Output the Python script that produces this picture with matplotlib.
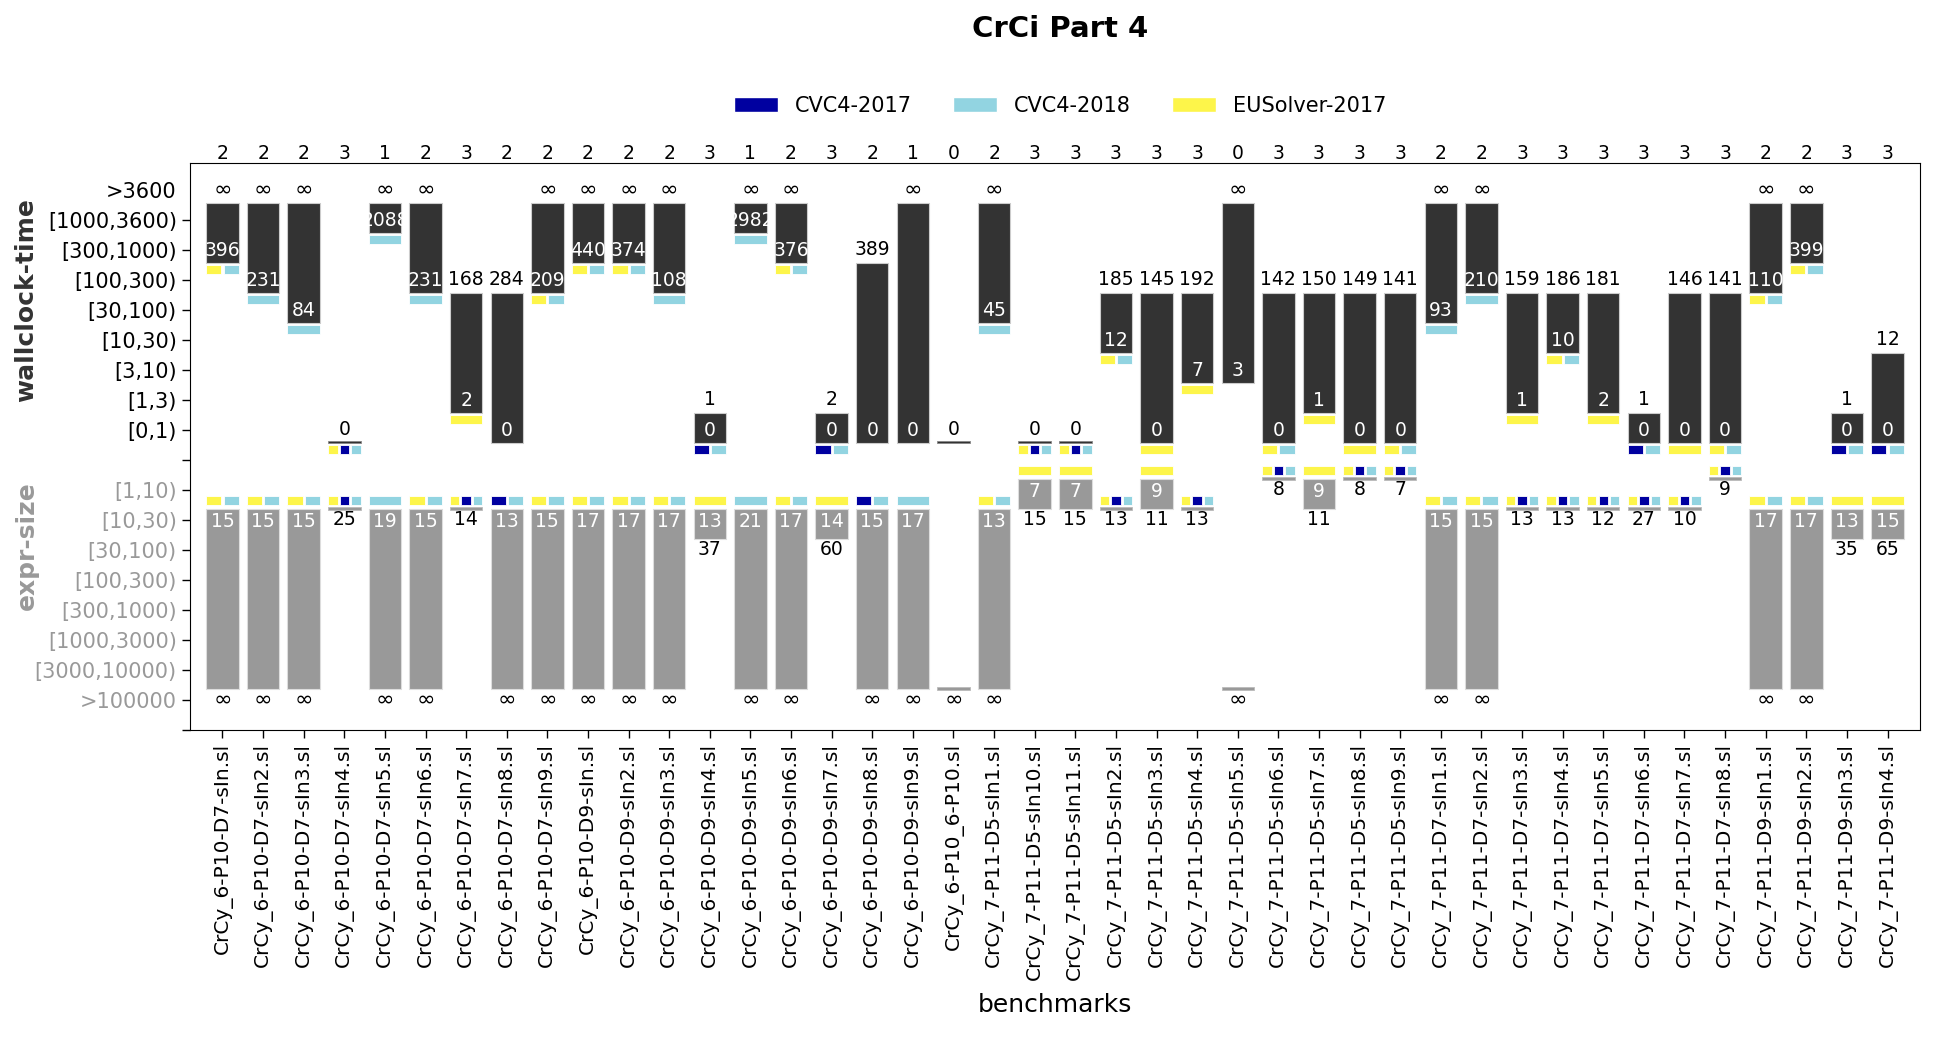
import numpy as np
import matplotlib.pyplot as plt
from matplotlib.patches import Patch
from matplotlib.transforms import blended_transform_factory

inf = np.inf

benchmarks = ['CrCy_6-P10-D7-sIn.sl', 'CrCy_6-P10-D7-sIn2.sl', 'CrCy_6-P10-D7-sIn3.sl',
              'CrCy_6-P10-D7-sIn4.sl', 'CrCy_6-P10-D7-sIn5.sl', 'CrCy_6-P10-D7-sIn6.sl',
              'CrCy_6-P10-D7-sIn7.sl', 'CrCy_6-P10-D7-sIn8.sl', 'CrCy_6-P10-D7-sIn9.sl',
              'CrCy_6-P10-D9-sIn.sl', 'CrCy_6-P10-D9-sIn2.sl', 'CrCy_6-P10-D9-sIn3.sl',
              'CrCy_6-P10-D9-sIn4.sl', 'CrCy_6-P10-D9-sIn5.sl', 'CrCy_6-P10-D9-sIn6.sl',
              'CrCy_6-P10-D9-sIn7.sl', 'CrCy_6-P10-D9-sIn8.sl', 'CrCy_6-P10-D9-sIn9.sl',
              'CrCy_6-P10_6-P10.sl',
              'CrCy_7-P11-D5-sIn1.sl', 'CrCy_7-P11-D5-sIn10.sl', 'CrCy_7-P11-D5-sIn11.sl',
              'CrCy_7-P11-D5-sIn2.sl', 'CrCy_7-P11-D5-sIn3.sl', 'CrCy_7-P11-D5-sIn4.sl',
              'CrCy_7-P11-D5-sIn5.sl', 'CrCy_7-P11-D5-sIn6.sl', 'CrCy_7-P11-D5-sIn7.sl',
              'CrCy_7-P11-D5-sIn8.sl', 'CrCy_7-P11-D5-sIn9.sl',
              'CrCy_7-P11-D7-sIn1.sl', 'CrCy_7-P11-D7-sIn2.sl', 'CrCy_7-P11-D7-sIn3.sl',
              'CrCy_7-P11-D7-sIn4.sl', 'CrCy_7-P11-D7-sIn5.sl', 'CrCy_7-P11-D7-sIn6.sl',
              'CrCy_7-P11-D7-sIn7.sl', 'CrCy_7-P11-D7-sIn8.sl',
              'CrCy_7-P11-D9-sIn1.sl', 'CrCy_7-P11-D9-sIn2.sl', 'CrCy_7-P11-D9-sIn3.sl',
              'CrCy_7-P11-D9-sIn4.sl']

# number of solvers that solved each benchmark
solved = [2, 2, 2, 3, 1, 2, 3, 2, 2,
          2, 2, 2, 3, 1, 2, 3, 2, 1,
          0,
          2, 3, 3, 3, 3, 3, 0, 3, 3, 3, 3,
          2, 2, 3, 3, 3, 3, 3, 3,
          2, 2, 3, 3]

time_max = [inf, inf, inf, 0, inf, inf, 168, 284, inf,
            inf, inf, inf, 1, inf, inf, 2, 389, inf,
            0,
            inf, 0, 0, 185, 145, 192, inf, 142, 150, 149, 141,
            inf, inf, 159, 186, 181, 1, 146, 141,
            inf, inf, 1, 12]
time_min = [396, 231, 84, 0, 2088, 231, 2, 0, 209,
            440, 374, 108, 0, 2982, 376, 0, 0, 0,
            0,
            45, 0, 0, 12, 0, 7, 3, 0, 1, 0, 0,
            93, 210, 1, 10, 2, 0, 0, 0,
            110, 399, 0, 0]
# solvers at the best time: Y = EUSolver-2017, B = CVC4-2017, C = CVC4-2018
time_best = ['YC', 'C', 'C', 'YBC', 'C', 'C', 'Y', '', 'YC',
             'YC', 'YC', 'C', 'BC', 'C', 'YC', 'BC', '', '',
             '',
             'C', 'YBC', 'YBC', 'YC', 'Y', 'Y', '', 'YC', 'Y', 'Y', 'YC',
             'C', 'C', 'Y', 'YC', 'Y', 'BC', 'Y', 'YC',
             'YC', 'YC', 'BC', 'BC']

size_min = [15, 15, 15, 25, 19, 15, 14, 13, 15,
            17, 17, 17, 13, 21, 17, 14, 15, 17,
            inf,
            13, 7, 7, 13, 9, 13, inf, 8, 9, 8, 7,
            15, 15, 13, 13, 12, 27, 10, 9,
            17, 17, 13, 15]
size_max = [inf, inf, inf, 25, inf, inf, 14, inf, inf,
            inf, inf, inf, 37, inf, inf, 60, inf, inf,
            inf,
            inf, 15, 15, 13, 11, 13, inf, 8, 11, 8, 7,
            inf, inf, 13, 13, 12, 27, 10, 9,
            inf, inf, 35, 65]
size_best = ['YC', 'YC', 'YC', 'YBC', 'C', 'YC', 'YBC', 'BC', 'YC',
             'YC', 'YC', 'YC', 'Y', 'C', 'YC', 'Y', 'BC', 'C',
             '',
             'YC', 'Y', 'Y', 'YBC', 'Y', 'YBC', '', 'YBC', 'Y', 'YBC', 'YBC',
             'YC', 'YC', 'YBC', 'YBC', 'YBC', 'YBC', 'YBC', 'YBC',
             'YC', 'YC', 'Y', 'Y']

time_bins = ['[0,1)', '[1,3)', '[3,10)', '[10,30)', '[30,100)', '[100,300)',
             '[300,1000)', '[1000,3600)', '>3600']
time_edges = [0, 1, 3, 10, 30, 100, 300, 1000, 3600]
size_bins = ['>100000', '[3000,10000)', '[1000,3000)', '[300,1000)', '[100,300)',
             '[30,100)', '[10,30)', '[1,10)']
size_edges = [1, 10, 30, 100, 300, 1000, 3000, 10000]

solver_names = ['CVC4-2017', 'CVC4-2018', 'EUSolver-2017']
solver_colors = {'B': '#0000a0', 'C': '#92d4e1', 'Y': '#fdf54a'}
dark = '#333333'
grey = '#999999'


def time_level(v):
    return 9 + np.searchsorted(time_edges, v, side='right')


def size_level(v):
    return 9 - np.searchsorted(size_edges, v, side='right')


def fmt(v):
    return '\u221e' if np.isinf(v) else str(int(v))


def label(ax, x, y, v, color):
    # the infinity sign is drawn a bit larger, as in the original
    size = 16 if np.isinf(v) else fs
    ax.text(x, y, fmt(v), ha='center', va='center', color=color, fontsize=size)


def squares(ax, x, y0, who, w):
    if not who:
        return
    k = len(who)
    gap = 0.05
    sw = (w - gap * (k - 1)) / k
    for j, c in enumerate(who):
        ax.bar(x - w / 2 + j * (sw + gap), 0.3, width=sw, bottom=y0, align='edge',
               color=solver_colors[c], edgecolor='white', linewidth=0.6)


fig = plt.figure(figsize=(19.56, 10.37), dpi=100)
ax = fig.add_axes([190 / 1956, 307 / 1037, 1730 / 1956, 567 / 1037])

W = 0.8
fs = 13.5
for i in range(len(benchmarks)):
    # wallclock time
    lo, hi = time_level(time_min[i]), time_level(time_max[i])
    if hi == lo:
        ax.bar(i, 0.08, bottom=lo - 0.44, width=W, color=dark, edgecolor='#888888', linewidth=0.6)
    else:
        ax.bar(i, hi - lo, bottom=lo - 0.42, width=W, color=dark, edgecolor='#cccccc', linewidth=0.8)
        label(ax, i, lo, time_min[i], 'white')
    label(ax, i, hi + 0.03, time_max[i], 'black')
    squares(ax, i, lo - 0.8, time_best[i], W)

    # expression size
    lo, hi = size_level(size_min[i]), size_level(size_max[i])
    if hi == lo:
        ax.bar(i, 0.08, bottom=lo + 0.34, width=W, color=grey, edgecolor='#bbbbbb', linewidth=0.6)
    else:
        ax.bar(i, lo - hi, bottom=hi + 0.38, width=W, color=grey, edgecolor='#dddddd', linewidth=0.8)
        label(ax, i, lo - 0.04, size_min[i], 'white')
    label(ax, i, hi + 0.02, size_max[i], 'black')
    squares(ax, i, lo + 0.5, size_best[i], W)

# number solved, above the frame
trans = blended_transform_factory(ax.transData, ax.transAxes)
for i, c in enumerate(solved):
    ax.text(i, 1.007, str(c), transform=trans, ha='center', va='baseline', fontsize=fs)

ax.set_xlim(-0.8, len(benchmarks) - 0.2)
ax.set_ylim(0, 18.9)
ax.set_xticks(range(len(benchmarks)))
ax.set_xticklabels(benchmarks, rotation=90, fontsize=14.5)
ax.set_yticks(range(19))
ax.set_yticklabels([''] + size_bins + [''] + time_bins, fontsize=15)
for lab in ax.get_yticklabels()[1:9]:
    lab.set_color(grey)
ax.yaxis.get_major_ticks()[18].tick1line.set_visible(False)
ax.tick_params(length=6, width=1)
ax.set_xlabel('benchmarks', fontsize=18, labelpad=9)

ax.text(-0.0945, 0.758, 'wallclock-time', transform=ax.transAxes, rotation=90,
        ha='center', va='center', fontsize=18, fontweight='bold', color=dark)
ax.text(-0.0945, 0.325, 'expr-size', transform=ax.transAxes, rotation=90,
        ha='center', va='center', fontsize=18, fontweight='bold', color=grey)

handles = [Patch(facecolor=solver_colors[c], edgecolor='white') for c in 'BCY']
fig.legend(handles, solver_names, loc='center', bbox_to_anchor=(0.542, 0.898), ncol=3,
           frameon=False, fontsize=15, handlelength=2.1, columnspacing=2.0)

fig.text(0.542, 0.972, 'CrCi Part 4', ha='center', va='center', fontsize=21, fontweight='bold')

fig.savefig('out.png', dpi=100)
